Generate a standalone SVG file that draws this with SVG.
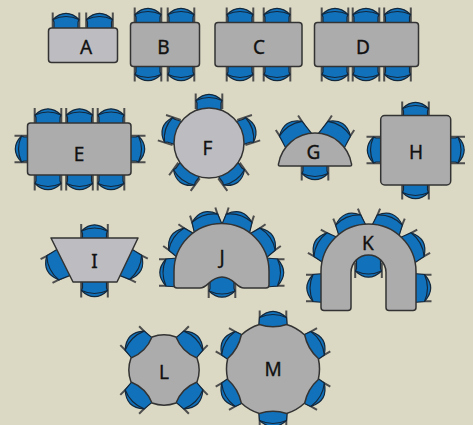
<svg xmlns="http://www.w3.org/2000/svg" width="473" height="425" viewBox="0 0 473 425">
<style>
.t{stroke:#333;stroke-width:1.5;stroke-linejoin:round}
.d{fill:#acacac}
.l{fill:#bdbdc1}
text{font-family:"Noto Sans","Open Sans","Liberation Sans",sans-serif;font-size:19px;fill:#111;stroke:#111;stroke-width:.35;text-anchor:middle}
</style>
<defs>
<g id="c">
<path d="M-13.300,-15.500V0M13.300,-15.500V0" fill="none" stroke="#4e4e4e" stroke-width="2"/>
<path d="M-12,8V-6L-13,-8.500C-9,-12.500 -5,-14.700 0,-14.700C5,-14.700 9,-12.500 13,-8.500L12,-6V8Z" fill="#1172bb" stroke="#14283c" stroke-width="1.200" stroke-linejoin="round"/>
<path d="M-13,-8.500Q0,-14.500 13,-8.500" fill="none" stroke="#14283c" stroke-width="1.200"/>
</g>
<g id="w">
<path d="M-13.300,-15.500V0M13.300,-15.500V0" fill="none" stroke="#4e4e4e" stroke-width="2"/>
<path d="M-15,8L-13.500,-8.500C-9,-12.500 -5,-14.700 0,-14.700C5,-14.700 9,-12.500 13.500,-8.500L15,8Z" fill="#1172bb" stroke="#14283c" stroke-width="1.200" stroke-linejoin="round"/>
<path d="M-13.500,-8.500Q0,-14.500 13.500,-8.500" fill="none" stroke="#14283c" stroke-width="1.200"/>
</g>
</defs>
<rect width="473" height="425" fill="#dbd9c3"/>
<g id="A">
<use href="#c" transform="translate(66 28)"/><use href="#c" transform="translate(99.500 28)"/>
<rect class="t l" x="48.500" y="28" width="69" height="34.500" rx="3"/>
<text x="86" y="53.500">A</text>
</g>
<g id="B">
<use href="#c" transform="translate(148 23)"/><use href="#c" transform="translate(181 23)"/>
<use href="#c" transform="translate(148 66) rotate(180)"/><use href="#c" transform="translate(181 66) rotate(180)"/>
<rect class="t d" x="130.500" y="22.500" width="69" height="44" rx="3"/>
<text x="163.500" y="53.500">B</text>
</g>
<g id="C">
<use href="#c" transform="translate(240 23)"/><use href="#c" transform="translate(277 23)"/>
<use href="#c" transform="translate(240 66) rotate(180)"/><use href="#c" transform="translate(277 66) rotate(180)"/>
<rect class="t d" x="215" y="22.500" width="87" height="44" rx="3"/>
<text x="259" y="53.500">C</text>
</g>
<g id="D">
<use href="#c" transform="translate(335 23)"/><use href="#c" transform="translate(366 23)"/><use href="#c" transform="translate(397.500 23)"/>
<use href="#c" transform="translate(335 66) rotate(180)"/><use href="#c" transform="translate(366 66) rotate(180)"/><use href="#c" transform="translate(397.500 66) rotate(180)"/>
<rect class="t d" x="314.500" y="22.500" width="104" height="44" rx="3"/>
<text x="363" y="53.500">D</text>
</g>
<g id="E">
<use href="#c" transform="translate(48 123.500)"/><use href="#c" transform="translate(79.500 123.500)"/><use href="#c" transform="translate(111 123.500)"/>
<use href="#c" transform="translate(48 175) rotate(180)"/><use href="#c" transform="translate(79.500 175) rotate(180)"/><use href="#c" transform="translate(111 175) rotate(180)"/>
<use href="#c" transform="translate(30 149) rotate(-90)"/><use href="#c" transform="translate(130 149) rotate(90)"/>
<rect class="t d" x="27.500" y="123" width="103.500" height="52" rx="3"/>
<text x="79" y="161">E</text>
</g>
<g id="F">
<use href="#c" transform="translate(209 143) rotate(0) translate(0 -34)"/>
<use href="#c" transform="translate(209 143) rotate(72) translate(0 -34)"/>
<use href="#c" transform="translate(209 143) rotate(144) translate(0 -34)"/>
<use href="#c" transform="translate(209 143) rotate(216) translate(0 -34)"/>
<use href="#c" transform="translate(209 143) rotate(288) translate(0 -34)"/>
<circle class="t l" cx="209" cy="143" r="35"/>
<text x="207.500" y="155">F</text>
</g>
<g id="G">
<use href="#w" transform="translate(315 166) rotate(-33) translate(0 -36)"/>
<use href="#w" transform="translate(315 166) rotate(33) translate(0 -36)"/>
<use href="#c" transform="translate(315 165) rotate(180)"/>
<path class="t d" d="M280,166Q278,166 278.500,164A37,37 0 0 1 351.500,164Q352,166 350,166Z"/>
<text x="313.500" y="159">G</text>
</g>
<g id="H">
<use href="#c" transform="translate(415.500 117)"/>
<use href="#c" transform="translate(415.500 184) rotate(180)"/>
<use href="#c" transform="translate(382 150) rotate(-90)"/>
<use href="#c" transform="translate(449.500 150) rotate(90)"/>
<rect class="t d" x="380.700" y="115.500" width="70" height="69.500" rx="4"/>
<text x="416" y="159">H</text>
</g>
<g id="I">
<use href="#c" transform="translate(94.500 239.500)"/>
<use href="#c" transform="translate(94.500 282) rotate(180)"/>
<use href="#w" transform="translate(60.400 264) rotate(-116.600)"/>
<use href="#w" transform="translate(128 263.500) rotate(116.600)"/>
<path class="t l" d="M51,238H138L117,282H73Z"/>
<text x="94.500" y="268">I</text>
</g>
<g id="J">
<use href="#w" transform="translate(222 271) rotate(-55) translate(0 -47)"/>
<use href="#w" transform="translate(222 271) rotate(-18) translate(0 -47)"/>
<use href="#w" transform="translate(222 271) rotate(18) translate(0 -47)"/>
<use href="#w" transform="translate(222 271) rotate(55) translate(0 -47)"/>
<use href="#w" transform="translate(174.500 272.500) rotate(-90)"/>
<use href="#w" transform="translate(269 272.500) rotate(90)"/>
<use href="#c" transform="translate(222 282.500) rotate(180)"/>
<path class="t d" d="M177,288Q174,288 174,285V271A47.500,47.500 0 0 1 269,271V285Q269,288 266,288H244C236,288 234,277 222,277C210,277 208,288 200,288Z"/>
<text x="222" y="264">J</text>
</g>
<g id="K">
<use href="#w" transform="translate(369 271.500) rotate(-61) translate(0 -47)"/>
<use href="#w" transform="translate(369 271.500) rotate(-22) translate(0 -47)"/>
<use href="#w" transform="translate(369 271.500) rotate(22) translate(0 -47)"/>
<use href="#w" transform="translate(369 271.500) rotate(61) translate(0 -47)"/>
<use href="#w" transform="translate(321.500 288) rotate(-90)"/>
<use href="#w" transform="translate(416 288) rotate(90)"/>
<use href="#c" transform="translate(368.500 262.500) rotate(180)"/>
<path class="t d" d="M324,310.500Q321,310.500 321,307.500V271.500A47.500,47.500 0 0 1 416,271.500V307.500Q416,310.500 413,310.500H389Q386,310.500 386,307.500V272.500A17.500,17.500 0 0 0 351,272.500V307.500Q351,310.500 348,310.500Z"/>
<text x="368" y="250">K</text>
</g>
<g id="L">
<use href="#w" transform="translate(164 370) rotate(45) translate(0 -33)"/>
<use href="#w" transform="translate(164 370) rotate(135) translate(0 -33)"/>
<use href="#w" transform="translate(164 370) rotate(225) translate(0 -33)"/>
<use href="#w" transform="translate(164 370) rotate(315) translate(0 -33)"/>
<path class="t d" d="M176,337Q182,352 197,358A35,35 0 0 1 197,382Q182,388 176,403A35,35 0 0 1 152,403Q146,388 131,382A35,35 0 0 1 131,358Q146,352 152,337A35,35 0 0 1 176,337Z"/>
<text x="164" y="379">L</text>
</g>
<g id="M">
<use href="#w" transform="translate(273 369) rotate(0) translate(0 -43)"/>
<use href="#w" transform="translate(273 369) rotate(60) translate(0 -43)"/>
<use href="#w" transform="translate(273 369) rotate(120) translate(0 -43)"/>
<use href="#w" transform="translate(273 369) rotate(180) translate(0 -43)"/>
<use href="#w" transform="translate(273 369) rotate(240) translate(0 -43)"/>
<use href="#w" transform="translate(273 369) rotate(300) translate(0 -43)"/>
<path class="t d" d="M286.600,324.500A46.500,46.500 0 0 1 304.700,335Q307.600,349 318.300,358.500A46.500,46.500 0 0 1 318.300,379.500Q307.600,389 304.700,403A46.500,46.500 0 0 1 286.600,413.500Q273,409 259.400,413.500A46.500,46.500 0 0 1 241.300,403Q238.400,389 227.700,379.500A46.500,46.500 0 0 1 227.700,358.500Q238.400,349 241.300,335A46.500,46.500 0 0 1 259.400,324.500Q273,329 286.600,324.500Z"/>
<text x="273" y="376">M</text>
</g>
</svg>
